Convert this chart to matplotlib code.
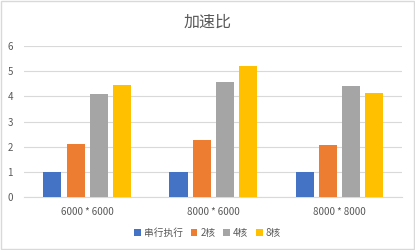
import numpy as np
import matplotlib
matplotlib.use("Agg")
import matplotlib.pyplot as plt
from matplotlib.patches import Rectangle

plt.rcParams['font.family'] = ['Noto Sans CJK SC', 'DejaVu Sans']

categories = ["6000 * 6000", "8000 * 6000", "8000 * 8000"]
series_names = ["串行执行", "2核", "4核", "8核"]
serial = [1.0, 1.0, 1.0]
core2 = [2.09, 2.26, 2.05]
core4 = [4.1, 4.56, 4.4]
core8 = [4.44, 5.2, 4.13]
colors = ["#4472C4", "#ED7D31", "#A5A5A5", "#FFC000"]

fig = plt.figure(figsize=(4.15, 2.5), dpi=100)
ax = fig.add_axes([0.058, 0.212, 0.911, 0.604])

x = np.arange(len(categories))
slot = 0.183
width = 0.143
for i, (vals, name, c) in enumerate(zip([serial, core2, core4, core8], series_names, colors)):
    ax.bar(x + (i - 1.5) * slot, vals, width, color=c, label=name, zorder=3)

ax.set_xlim(-0.5, 2.5)
ax.set_ylim(0, 6)
ax.set_yticks(range(7))
ax.set_xticks(x)
ax.set_xticklabels(categories)
ax.grid(axis="y", color="#D9D9D9", linewidth=0.8, zorder=0)
for s in ["top", "right", "left"]:
    ax.spines[s].set_visible(False)
ax.spines["bottom"].set_color("#D9D9D9")
ax.tick_params(length=0, colors="#595959", labelsize=7)
ax.tick_params(axis="y", pad=8)
ax.tick_params(axis="x", pad=7)

fig.text(0.5, 0.91, "加速比", ha="center", va="center", fontsize=11.5, color="#595959")
fig.legend(loc="center", bbox_to_anchor=(0.5, 0.068), ncol=4, frameon=False,
           fontsize=7, labelcolor="#595959", handlelength=0.7, handleheight=0.7,
           handletextpad=0.3, columnspacing=0.8)

fig.patches.append(Rectangle((0.002, 0.004), 0.996, 0.992, transform=fig.transFigure,
                             fill=False, edgecolor="#D9D9D9", linewidth=1))

fig.savefig("out.png", dpi=100)
